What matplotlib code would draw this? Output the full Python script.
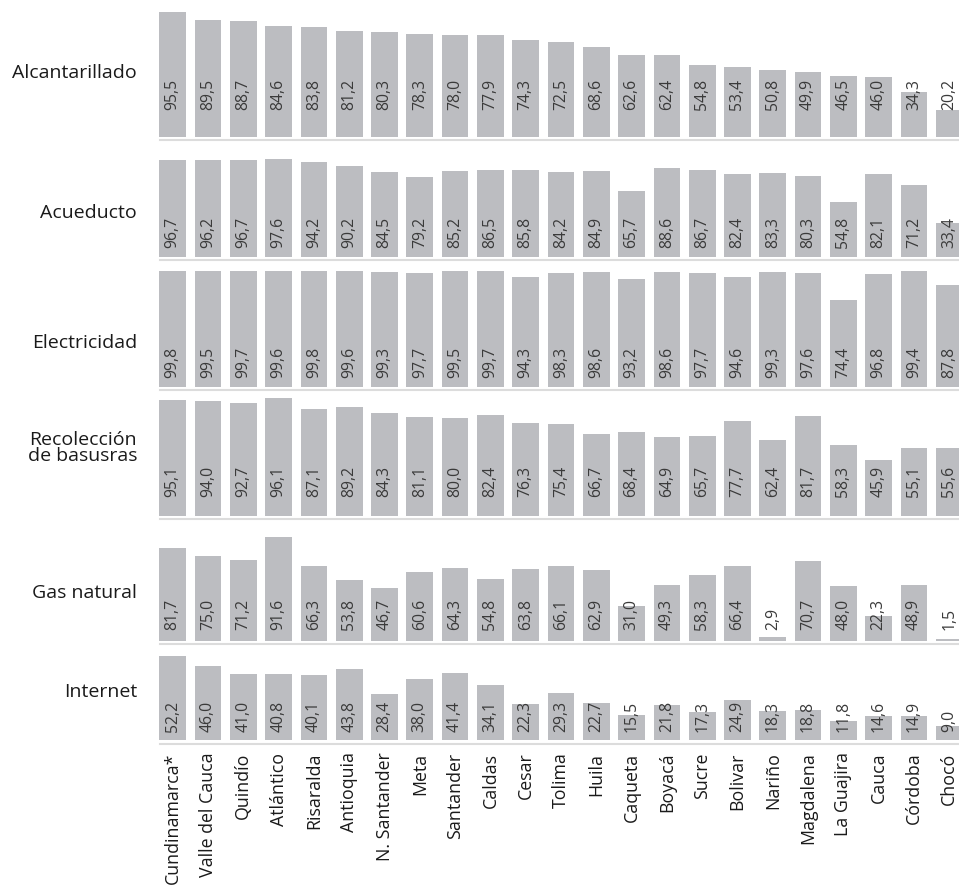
import matplotlib
matplotlib.use("Agg")
import matplotlib.pyplot as plt
from matplotlib.lines import Line2D

plt.rcParams['font.family'] = ['Open Sans', 'DejaVu Sans']

departments = ["Cundinamarca*", "Valle del Cauca", "Quindío", "Atlántico", "Risaralda",
               "Antioquia", "N. Santander", "Meta", "Santander", "Caldas", "Cesar",
               "Tolima", "Huila", "Caqueta", "Boyacá", "Sucre", "Bolivar", "Nariño",
               "Magdalena", "La Guajira", "Cauca", "Córdoba", "Chocó"]

services = ["Alcantarillado", "Acueducto", "Electricidad",
            "Recolección\nde basusras", "Gas natural", "Internet"]

alcantarillado = [95.5, 89.5, 88.7, 84.6, 83.8, 81.2, 80.3, 78.3, 78.0, 77.9, 74.3, 72.5,
                  68.6, 62.6, 62.4, 54.8, 53.4, 50.8, 49.9, 46.5, 46.0, 34.3, 20.2]
acueducto = [96.7, 96.2, 96.7, 97.6, 94.2, 90.2, 84.5, 79.2, 85.2, 86.5, 85.8, 84.2,
             84.9, 65.7, 88.6, 86.7, 82.4, 83.3, 80.3, 54.8, 82.1, 71.2, 33.4]
electricidad = [99.8, 99.5, 99.7, 99.6, 99.8, 99.6, 99.3, 97.7, 99.5, 99.7, 94.3, 98.3,
                98.6, 93.2, 98.6, 97.7, 94.6, 99.3, 97.6, 74.4, 96.8, 99.4, 87.8]
recoleccion = [95.1, 94.0, 92.7, 96.1, 87.1, 89.2, 84.3, 81.1, 80.0, 82.4, 76.3, 75.4,
               66.7, 68.4, 64.9, 65.7, 77.7, 62.4, 81.7, 58.3, 45.9, 55.1, 55.6]
gas_natural = [81.7, 75.0, 71.2, 91.6, 66.3, 53.8, 46.7, 60.6, 64.3, 54.8, 63.8, 66.1,
               62.9, 31.0, 49.3, 58.3, 66.4, 2.9, 70.7, 48.0, 22.3, 48.9, 1.5]
internet = [52.2, 46.0, 41.0, 40.8, 40.1, 43.8, 28.4, 38.0, 41.4, 34.1, 22.3, 29.3,
            22.7, 15.5, 21.8, 17.3, 24.9, 18.3, 18.8, 11.8, 14.6, 14.9, 9.0]

series = [alcantarillado, acueducto, electricidad, recoleccion, gas_natural, internet]

W, H = 959, 892
fig = plt.figure(figsize=(W / 100, H / 100), dpi=100)

# layout in pixels (from top)
baselines = [136.7, 256.7, 386.7, 515.7, 640.7, 740.0]
tops = [0.0, 141.0, 261.0, 392.0, 521.0, 646.0]
scales = [1.306, 1.005, 1.16, 1.22, 1.13, 1.61]   # px per unit
label_off = [27, 9, 9, 19, 11, 8]                   # px above baseline
panel_label_y = [73, 213, 343, 448, 593, 692]

ax_left_px = 159.0
pitch = 35.3
first_center = 172.7
x0 = -(first_center - ax_left_px) / pitch
x1 = (W - first_center) / pitch

bar_color = '#bcbdc1'
sep_color = '#dcdcdc'

xs = list(range(len(departments)))
for k, (vals, name) in enumerate(zip(series, services)):
    b, t, s = baselines[k], tops[k], scales[k]
    ax = fig.add_axes([ax_left_px / W, 1 - b / H, (W - ax_left_px) / W, (b - t) / H])
    ax.bar(xs, vals, width=0.755, color=bar_color, linewidth=0)
    ax.set_xlim(x0, x1)
    ax.set_ylim(0, (b - t) / s)
    for sp in ax.spines.values():
        sp.set_visible(False)
    ax.set_yticks([])
    ax.tick_params(axis='x', length=0)
    if k == len(series) - 1:
        ax.set_xticks(xs)
        ax.set_xticklabels(departments, rotation=90, fontsize=12.8, color='#1a1a1a',
                           ha='center', va='top')
        ax.tick_params(axis='x', pad=9)
    else:
        ax.set_xticks([])
    for i, v in enumerate(vals):
        ax.annotate(f"{v:.1f}".replace('.', ','), xy=(i, 0),
                    xytext=(0, label_off[k] * 0.72), textcoords='offset points',
                    rotation=90, ha='center', va='bottom', fontsize=11.3,
                    color='#3a3a3a', annotation_clip=False)
    # separator line under panel
    ly = 1 - (b + 3.5) / H
    fig.add_artist(Line2D([160 / W, 1.0], [ly, ly], transform=fig.transFigure,
                          color=sep_color, linewidth=1.5))
    fig.text(137 / W, 1 - panel_label_y[k] / H, name, ha='right', va='center',
             fontsize=14, color='#1a1a1a', multialignment='right', linespacing=0.85)

fig.savefig('out.png', dpi=100, facecolor='white')
